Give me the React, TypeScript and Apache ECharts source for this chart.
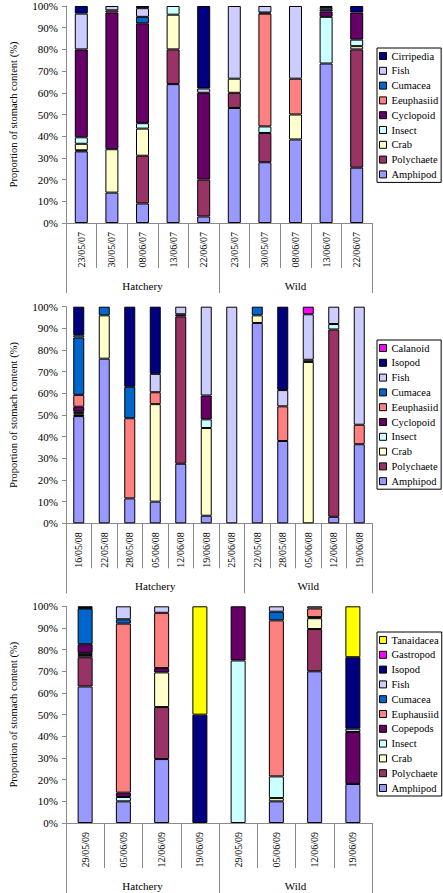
import React, { useEffect, useRef } from "react";
import * as echarts from "echarts";

const FONT = "'Liberation Serif', 'Times New Roman', serif";

// ---------- 2007 ----------
const cats07 = ["23/05/07", "30/05/07", "08/06/07", "13/06/07", "22/06/07", "23/05/07", "30/05/07", "08/06/07", "13/06/07", "22/06/07"];
const groupSizes07 = [5, 5];
const amphipod07 = [33, 14, 9, 64, 3, 53, 28, 38.5, 73.5, 25.5];
const polychaete07 = [0.5, 0, 22, 16, 17, 7, 13.5, 0, 0, 54.5];
const crab07 = [3, 20, 12.5, 16, 0, 6.5, 0, 11.5, 0, 1.5];
const insect07 = [3, 0, 2.5, 4, 0, 0, 3, 0, 21.5, 3];
const cyclopoid07 = [40.5, 63, 46, 0, 40, 0, 0, 0, 2.5, 12.5];
const euphausiid07 = [0, 1, 0, 0, 0, 0, 52, 16.5, 0, 0];
const cumacea07 = [0, 0, 3, 0, 0, 0, 0.5, 0, 1, 0];
const fish07 = [16.5, 2, 4, 0, 2, 33.5, 3, 33.5, 1, 0];
const cirripedia07 = [3.5, 0, 1, 0, 38, 0, 0, 0, 0.5, 3];

// ---------- 2008 ----------
const cats08 = ["16/05/08", "22/05/08", "28/05/08", "05/06/08", "12/06/08", "19/06/08", "25/06/08", "22/05/08", "28/05/08", "05/06/08", "12/06/08", "19/06/08"];
const groupSizes08 = [7, 5];
const amphipod08 = [49.5, 76, 11.5, 10, 27.5, 3.5, 0, 92.5, 38, 0, 3, 36.5];
const polychaete08 = [0.7, 0, 0, 0, 68, 0, 0, 0, 0, 0, 86.5, 0];
const crab08 = [0.6, 20, 0, 45, 0, 40.5, 0, 3.5, 0, 74.5, 0, 0];
const insect08 = [0.7, 0, 0, 0, 0, 4, 0, 0, 0, 1, 2.5, 0];
const cyclopoid08 = [2.3, 0, 0, 0, 1, 11, 0, 0, 0, 0, 0, 0];
const euphausiid08 = [5.5, 0, 37, 5.5, 0, 0, 0, 0, 16, 0, 0, 9];
const cumacea08 = [26.5, 4, 14.5, 0, 0, 0, 0, 4, 0, 0, 0, 0];
const fish08 = [1, 0, 0, 8.5, 3.5, 41, 100, 0, 7.5, 21, 8, 54.5];
const isopod08 = [13.2, 0, 37, 31, 0, 0, 0, 0, 38.5, 0, 0, 0];
const calanoid08 = [0, 0, 0, 0, 0, 0, 0, 0, 0, 3.5, 0, 0];

// ---------- 2009 ----------
const cats09 = ["29/05/09", "05/06/09", "12/06/09", "19/06/09", "29/05/09", "05/06/09", "12/06/09", "19/06/09"];
const groupSizes09 = [4, 4];
const amphipod09 = [63, 10, 29.5, 0, 0, 10, 70, 18];
const polychaete09 = [13.5, 0, 24, 0, 0, 0, 19.5, 0];
const crab09 = [1, 0, 16, 0, 0, 1.5, 5, 0];
const insect09 = [1, 2, 0, 0, 75, 10, 0, 0];
const copepods09 = [4, 2, 2, 0, 25, 0, 0.5, 24];
const euphausiid09 = [0, 78, 25.5, 0, 0, 72, 4, 0];
const cumacea09 = [16.5, 2, 0, 0, 0, 4, 0, 0];
const fish09 = [0.3, 6, 3, 0, 0, 2.5, 1, 1.5];
const isopod09 = [0.7, 0, 0, 50, 0, 0, 0, 33];
const gastropod09 = [0, 0, 0, 0, 0, 0, 0, 0];
const tanaidacea09 = [0, 0, 0, 50, 0, 0, 0, 23.5];

const groupNames = ["Hatchery", "Wild"];
const yTicks = [0, 10, 20, 30, 40, 50, 60, 70, 80, 90, 100];

const C = {
  Amphipod: "#9999FF",
  Polychaete: "#993366",
  Crab: "#FFFFCC",
  Insect: "#CCFFFF",
  Cyclopoid: "#660066",
  Eeuphasiid: "#FF8080",
  Cumacea: "#0066CC",
  Fish: "#CCCCFF",
  Navy: "#000080",
  Magenta: "#FF00FF",
  Yellow: "#FFFF00",
};

type Sp = { name: string; color: string; data: number[] };

const panels: {
  cats: string[];
  groups: number[];
  species: Sp[];
  top: number;
  height: number;
  barWidth: number;
  legendTop: number;
}[] = [
  {
    cats: cats07,
    groups: groupSizes07,
    species: [
      { name: "Amphipod", color: C.Amphipod, data: amphipod07 },
      { name: "Polychaete", color: C.Polychaete, data: polychaete07 },
      { name: "Crab", color: C.Crab, data: crab07 },
      { name: "Insect", color: C.Insect, data: insect07 },
      { name: "Cyclopoid", color: C.Cyclopoid, data: cyclopoid07 },
      { name: "Eeuphasiid", color: C.Eeuphasiid, data: euphausiid07 },
      { name: "Cumacea", color: C.Cumacea, data: cumacea07 },
      { name: "Fish", color: C.Fish, data: fish07 },
      { name: "Cirripedia", color: C.Navy, data: cirripedia07 },
    ],
    top: 6,
    height: 217,
    barWidth: 13,
    legendTop: 48,
  },
  {
    cats: cats08,
    groups: groupSizes08,
    species: [
      { name: "Amphipod", color: C.Amphipod, data: amphipod08 },
      { name: "Polychaete", color: C.Polychaete, data: polychaete08 },
      { name: "Crab", color: C.Crab, data: crab08 },
      { name: "Insect", color: C.Insect, data: insect08 },
      { name: "Cyclopoid", color: C.Cyclopoid, data: cyclopoid08 },
      { name: "Eeuphasiid", color: C.Eeuphasiid, data: euphausiid08 },
      { name: "Cumacea", color: C.Cumacea, data: cumacea08 },
      { name: "Fish", color: C.Fish, data: fish08 },
      { name: "Isopod", color: C.Navy, data: isopod08 },
      { name: "Calanoid", color: C.Magenta, data: calanoid08 },
    ],
    top: 306.7,
    height: 216.6,
    barWidth: 11,
    legendTop: 340,
  },
  {
    cats: cats09,
    groups: groupSizes09,
    species: [
      { name: "Amphipod", color: C.Amphipod, data: amphipod09 },
      { name: "Polychaete", color: C.Polychaete, data: polychaete09 },
      { name: "Crab", color: C.Crab, data: crab09 },
      { name: "Insect", color: C.Insect, data: insect09 },
      { name: "Copepods", color: C.Cyclopoid, data: copepods09 },
      { name: "Euphausiid", color: C.Eeuphasiid, data: euphausiid09 },
      { name: "Cumacea", color: C.Cumacea, data: cumacea09 },
      { name: "Fish", color: C.Fish, data: fish09 },
      { name: "Isopod", color: C.Navy, data: isopod09 },
      { name: "Gastropod", color: C.Magenta, data: gastropod09 },
      { name: "Tanaidacea", color: C.Yellow, data: tanaidacea09 },
    ],
    top: 606.3,
    height: 216.7,
    barWidth: 15,
    legendTop: 632,
  },
];

const AXIS_GRAY = "#8a8a8a";

function buildOption() {
  const grid: any[] = [];
  const xAxis: any[] = [];
  const yAxis: any[] = [];
  const legend: any[] = [];
  const series: any[] = [];

  panels.forEach((p, i) => {
    const N = p.cats.length;
    const nH = p.groups[0];
    const nW = p.groups[1];
    grid.push({ left: 60, width: 312, top: p.top, height: p.height });
    xAxis.push({
      type: "category",
      gridIndex: i,
      data: p.cats,
      position: "bottom",
      axisLine: { show: true, lineStyle: { color: AXIS_GRAY, width: 1 } },
      axisTick: { show: true, interval: 0, length: 45, lineStyle: { color: AXIS_GRAY } },
      axisLabel: { interval: 0, rotate: 90, fontSize: 10, color: "#000", margin: 9, fontFamily: FONT },
      splitLine: { show: false },
    });
    xAxis.push({
      type: "value",
      gridIndex: i,
      min: 0,
      max: N,
      position: "bottom",
      axisLine: { show: false },
      splitLine: { show: false },
      axisTick: { show: true, customValues: [0, nH, N], length: 70, lineStyle: { color: AXIS_GRAY } },
      axisLabel: {
        show: true,
        customValues: [nH / 2, nH + nW / 2],
        formatter: (v: number) => (v < nH ? groupNames[0] : groupNames[1]),
        margin: 57,
        fontSize: 11,
        color: "#000",
        fontFamily: FONT,
      },
    });
    yAxis.push({
      type: "value",
      gridIndex: i,
      min: yTicks[0],
      max: yTicks[yTicks.length - 1],
      interval: 10,
      name: "Proportion of stomach content (%)",
      nameLocation: "middle",
      nameGap: 47,
      nameTextStyle: { fontSize: 10.5, color: "#000", fontFamily: FONT },
      axisLine: { show: true, lineStyle: { color: AXIS_GRAY } },
      axisTick: { show: true, length: 4, lineStyle: { color: AXIS_GRAY } },
      axisLabel: { formatter: "{value}%", fontSize: 11, color: "#000", margin: 8, fontFamily: FONT },
      splitLine: { show: false },
    });
    legend.push({
      orient: "vertical",
      left: 377,
      top: p.legendTop,
      data: p.species.map((s) => s.name).reverse(),
      itemWidth: 7,
      itemHeight: 7,
      itemGap: 2.8,
      icon: "rect",
      padding: [2, 3, 2, 2],
      borderColor: "#000",
      borderWidth: 1,
      backgroundColor: "#fff",
      selectedMode: false,
      itemStyle: { borderColor: "#000", borderWidth: 1 },
      textStyle: { fontSize: 10.5, color: "#000", fontFamily: FONT, lineHeight: 12 },
    });
    p.species.forEach((s) => {
      series.push({
        type: "bar",
        name: s.name,
        xAxisIndex: i * 2,
        yAxisIndex: i,
        stack: "panel" + i,
        barWidth: p.barWidth,
        data: s.data.map((v) => (v === 0 ? null : v)),
        itemStyle: { color: s.color, borderColor: "#000", borderWidth: 1 },
        emphasis: { disabled: true },
      });
    });
  });

  return {
    animation: false,
    backgroundColor: "#fff",
    textStyle: { fontFamily: FONT },
    grid,
    xAxis,
    yAxis,
    legend,
    series,
  };
}

export default function App() {
  const ref = useRef<HTMLDivElement>(null);
  useEffect(() => {
    if (!ref.current) return;
    const chart = echarts.init(ref.current, undefined, { renderer: "svg" });
    chart.setOption(buildOption() as any);
    return () => chart.dispose();
  }, []);
  return (
    <div
      ref={ref}
      style={{ position: "absolute", left: 0, top: 0, width: 443, height: 893, background: "#fff" }}
    />
  );
}
